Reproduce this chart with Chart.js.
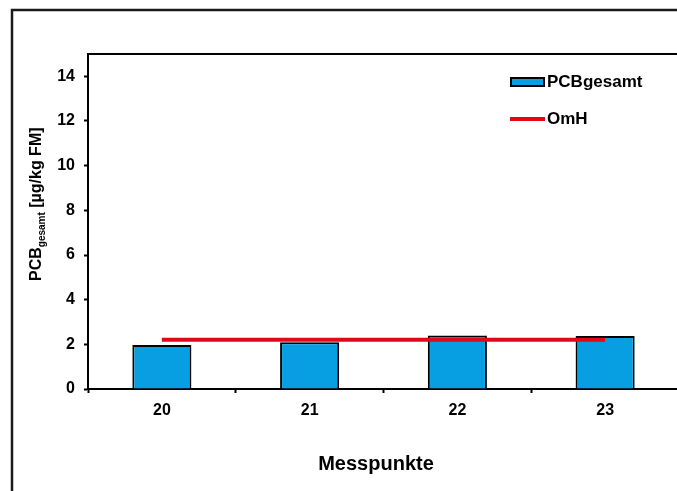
<!DOCTYPE html>
<html>
<head>
<meta charset="utf-8">
<script src="https://cdn.jsdelivr.net/npm/chart.js@4.4.1/dist/chart.umd.min.js"></script>
<style>
  html, body { margin: 0; padding: 0; background: #fff; overflow: hidden; }
  #wrap { position: absolute; left: 0; top: 0; width: 700px; height: 491px; }
</style>
</head>
<body>
<div id="wrap"><canvas id="chart"></canvas></div>
<script>
// Messpunkte and measured PCB totals (µg/kg FM)
const categories = ['20', '21', '22', '23'];
const pcbGesamt = [1.97, 2.09, 2.40, 2.37];
const omhLevel = [2.2, 2.2, 2.2, 2.2];
const yTickValues = [0, 2, 4, 6, 8, 10, 12, 14];
const yMin = 0;
const yMax = 15;

const FONT = '"Liberation Sans", Arial, sans-serif';
const BAR_BLUE = '#089FE2';
const OMH_RED = '#E2071A';

// Frame, plot box, legend and axis titles
const decorations = {
  id: 'decorations',
  beforeDraw(chart) {
    const ctx = chart.ctx;
    ctx.save();
    ctx.fillStyle = '#fff';
    ctx.fillRect(0, 0, chart.width, chart.height);
    ctx.strokeStyle = '#1a1a1a';
    ctx.lineWidth = 2.5;
    ctx.strokeRect(12, 10, 900, 900);
    ctx.restore();
  },
  afterDraw(chart) {
    const ctx = chart.ctx;
    const a = chart.chartArea;
    ctx.save();
    // plot box top and right edges
    ctx.strokeStyle = '#000';
    ctx.lineWidth = 2;
    ctx.beginPath();
    ctx.moveTo(a.left, a.top);
    ctx.lineTo(a.right, a.top);
    ctx.lineTo(a.right, a.bottom);
    ctx.stroke();

    // legend
    ctx.fillStyle = BAR_BLUE;
    ctx.fillRect(511, 78, 33, 8);
    ctx.strokeStyle = '#000';
    ctx.lineWidth = 2;
    ctx.strokeRect(511, 78, 33, 8);
    ctx.strokeStyle = OMH_RED;
    ctx.lineWidth = 4;
    ctx.beginPath();
    ctx.moveTo(510, 119);
    ctx.lineTo(545, 119);
    ctx.stroke();
    ctx.fillStyle = '#000';
    ctx.font = 'bold 17px ' + FONT;
    ctx.textBaseline = 'middle';
    ctx.textAlign = 'left';
    ctx.fillText(chart.data.datasets[1].label, 547, 82);
    ctx.fillText(chart.data.datasets[0].label, 547, 119);

    // x axis title
    ctx.font = 'bold 20px ' + FONT;
    ctx.textAlign = 'center';
    ctx.textBaseline = 'alphabetic';
    ctx.fillText('Messpunkte', 376, 470);

    // y axis title with subscript
    ctx.translate(41, 281);
    ctx.rotate(-Math.PI / 2);
    ctx.textAlign = 'left';
    let x = 0;
    ctx.font = 'bold 16px ' + FONT;
    ctx.fillText('PCB', x, 0);
    x += ctx.measureText('PCB').width;
    ctx.font = 'bold 10px ' + FONT;
    ctx.fillText('gesamt', x, 4);
    x += ctx.measureText('gesamt').width;
    ctx.font = 'bold 16px ' + FONT;
    ctx.fillText(' [µg/kg FM]', x, 0);
    ctx.restore();
  }
};

new Chart(document.getElementById('chart'), {
  type: 'bar',
  data: {
    labels: categories,
    datasets: [
      {
        type: 'line',
        label: 'OmH',
        data: omhLevel,
        borderColor: OMH_RED,
        borderWidth: 4,
        pointRadius: 0,
        fill: false,
        order: 0
      },
      {
        type: 'bar',
        label: 'PCBgesamt',
        data: pcbGesamt,
        backgroundColor: BAR_BLUE,
        borderColor: '#000',
        borderWidth: 2,
        barPercentage: 0.4,
        categoryPercentage: 1.0,
        order: 1
      }
    ]
  },
  options: {
    responsive: true,
    maintainAspectRatio: false,
    animation: false,
    devicePixelRatio: 1,
    layout: { padding: { top: 54, right: 21, left: 0, bottom: 0 } },
    plugins: {
      legend: { display: false },
      tooltip: { enabled: false },
      title: { display: false }
    },
    scales: {
      x: {
        offset: true,
        grid: {
          offset: true,
          drawOnChartArea: false,
          drawTicks: true,
          tickLength: 4,
          tickWidth: 2,
          color: '#000'
        },
        border: { display: true, color: '#000', width: 2 },
        ticks: {
          color: '#000',
          font: { family: FONT, size: 16, weight: 'bold' },
          padding: 8
        },
        afterFit(scale) { scale.height = 102; }
      },
      y: {
        min: yMin,
        max: yMax,
        afterBuildTicks(scale) {
          scale.ticks = yTickValues.map(v => ({ value: v }));
        },
        grid: {
          drawOnChartArea: false,
          drawTicks: true,
          tickLength: 4,
          tickWidth: 2,
          color: '#000'
        },
        border: { display: true, color: '#000', width: 2 },
        ticks: {
          color: '#000',
          font: { family: FONT, size: 16, weight: 'bold' },
          padding: 9
        },
        afterFit(scale) { scale.width = 88; }
      }
    }
  },
  plugins: [decorations]
});
</script>
</body>
</html>
